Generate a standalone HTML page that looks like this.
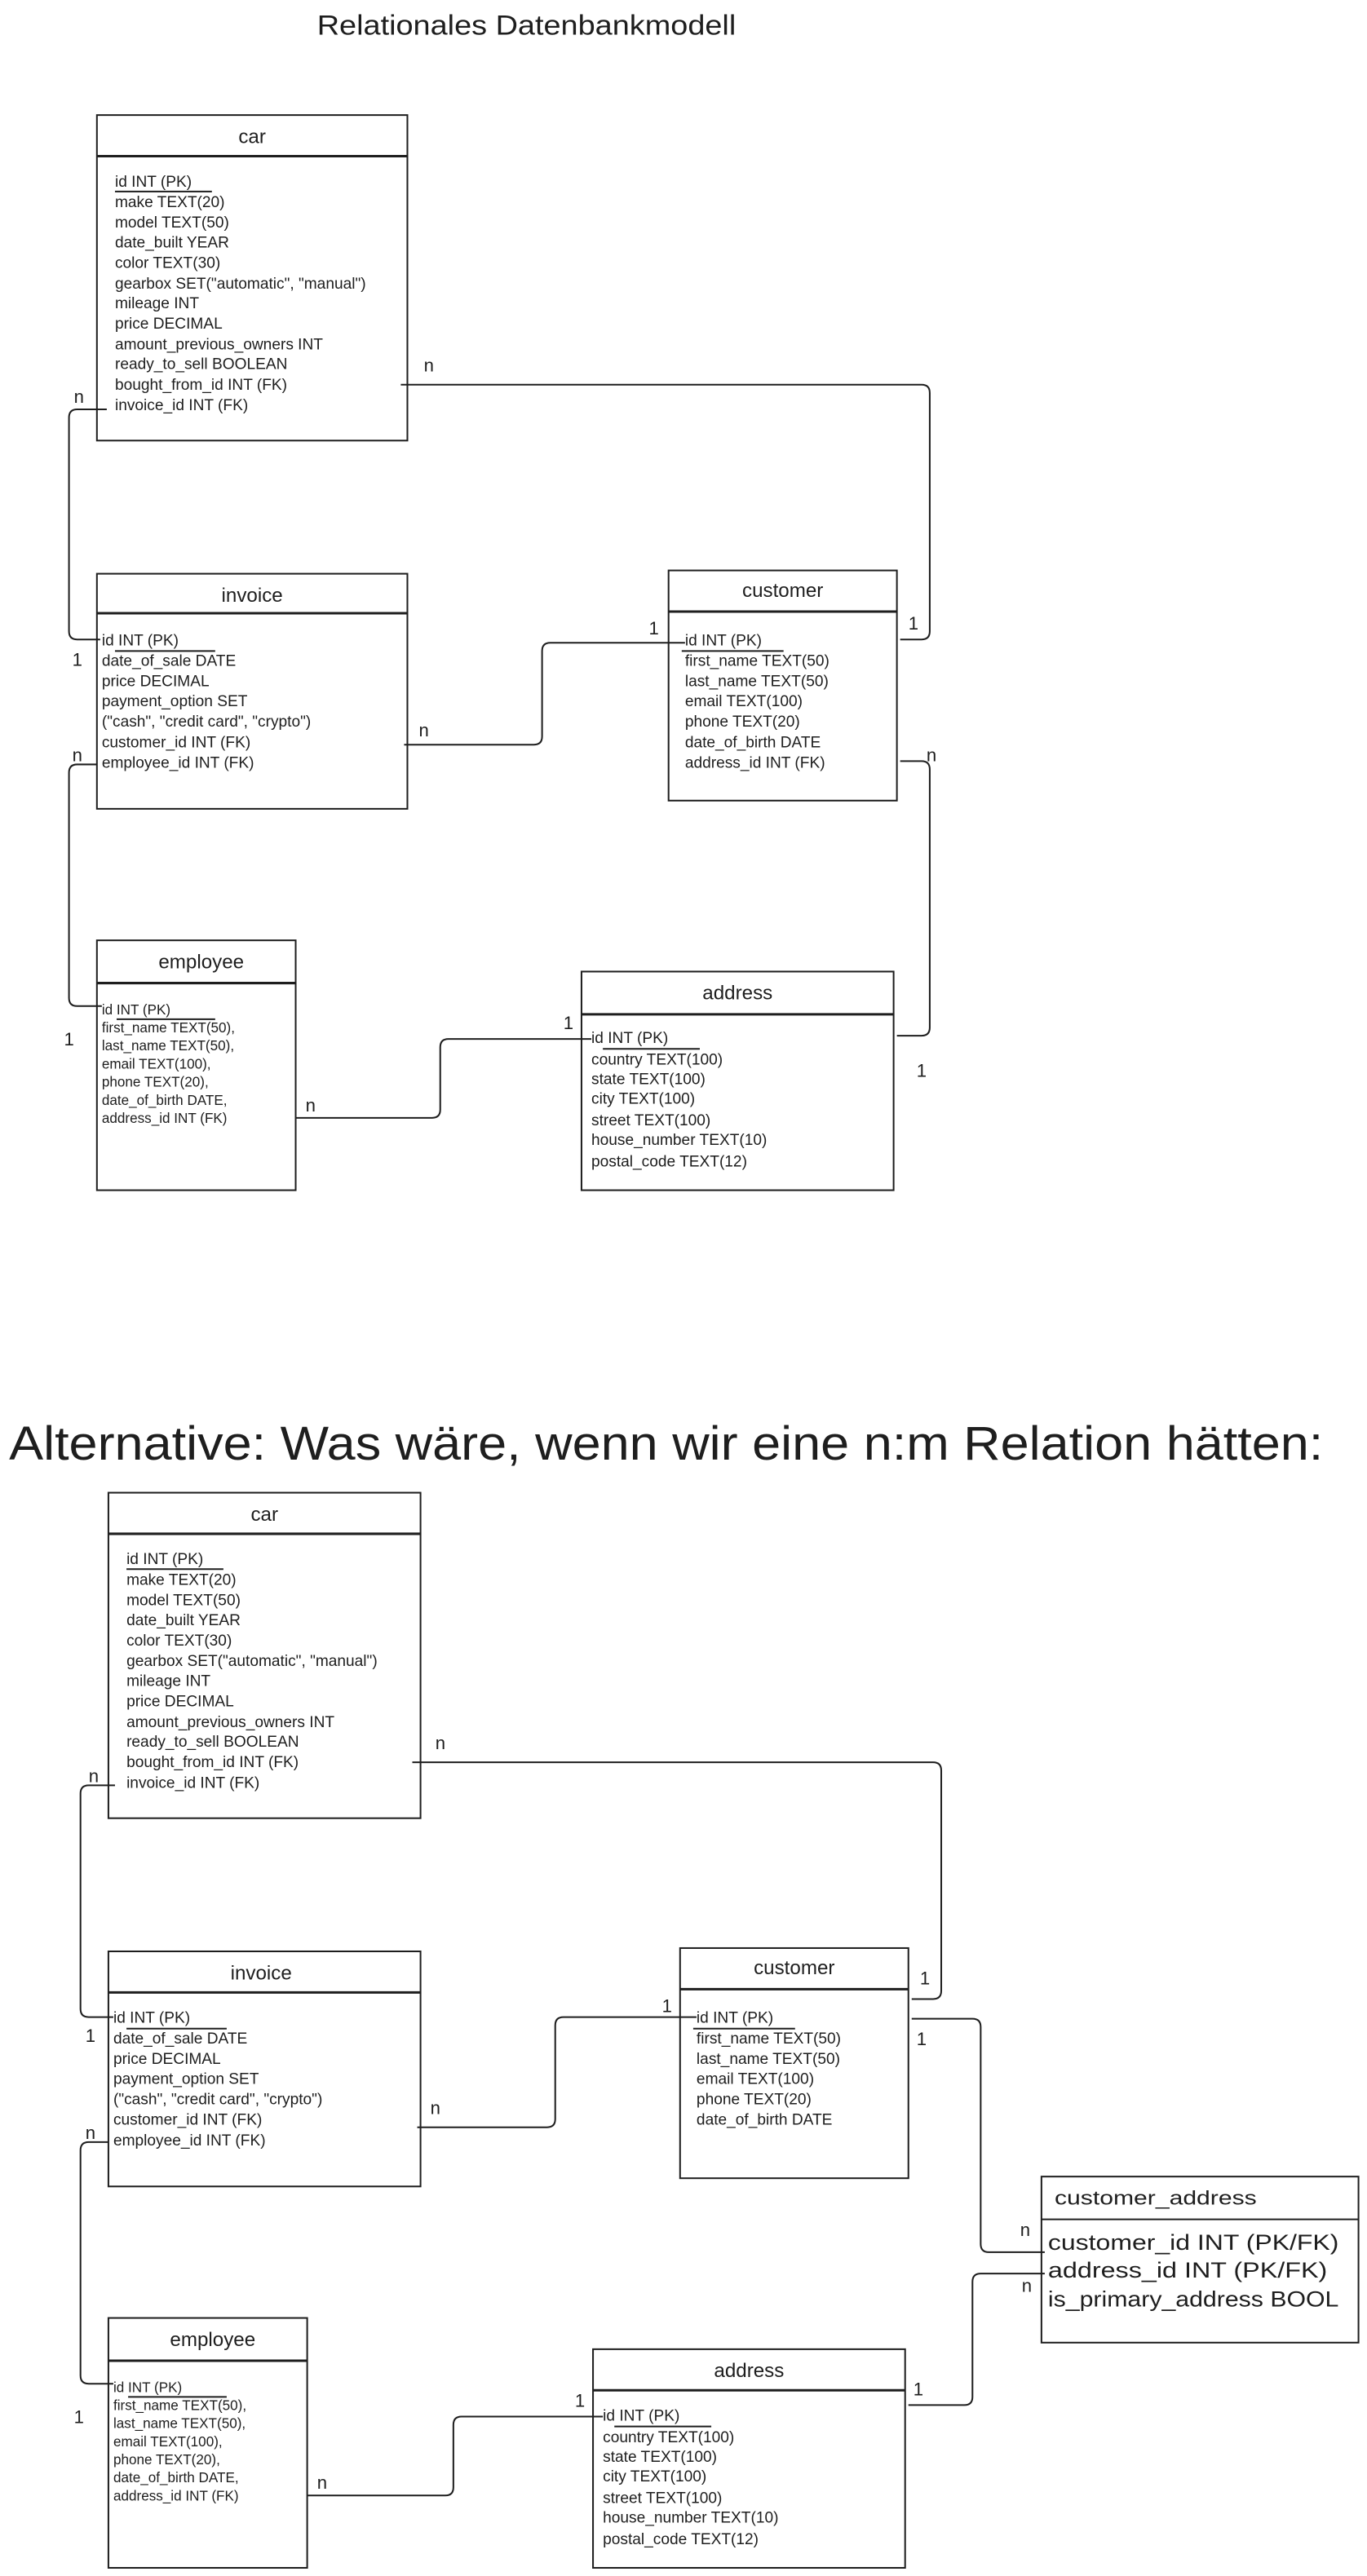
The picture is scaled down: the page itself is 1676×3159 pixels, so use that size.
<!DOCTYPE html>
<html><head><meta charset="utf-8"><style>
html,body{margin:0;padding:0;background:#fff}
svg{display:block}
text{font-family:"Liberation Sans",sans-serif;fill:#1e1e1e}
.r{font-size:19px}
.e{font-size:17px}
.h{font-size:24px;text-anchor:middle}
.l{font-size:22px}
.b{fill:none;stroke:#1e1e1e;stroke-width:2}
.hl{stroke:#1e1e1e;stroke-width:3}
.c{fill:none;stroke:#1e1e1e;stroke-width:2}
.u{stroke:#1e1e1e;stroke-width:2}
</style></head><body>
<svg width="1676" height="3159" viewBox="0 0 1676 3159" xmlns="http://www.w3.org/2000/svg">
<g transform="scale(1.007,1.008)">
<text x="386" y="42" font-size="34" textLength="510" lengthAdjust="spacingAndGlyphs">Relationales Datenbankmodell</text>

<!-- TOP: car -->
<rect class="b" x="118" y="140" width="378" height="396"/>
<line class="hl" x1="118" y1="190" x2="496" y2="190"/>
<text class="h" x="307" y="174">car</text>
<g class="r">
<text x="140" y="227">id INT (PK)</text>
<text x="140" y="252">make TEXT(20)</text>
<text x="140" y="277">model TEXT(50)</text>
<text x="140" y="301">date_built YEAR</text>
<text x="140" y="326">color TEXT(30)</text>
<text x="140" y="351">gearbox SET("automatic", "manual")</text>
<text x="140" y="375">mileage INT</text>
<text x="140" y="400">price DECIMAL</text>
<text x="140" y="425">amount_previous_owners INT</text>
<text x="140" y="449">ready_to_sell BOOLEAN</text>
<text x="140" y="474">bought_from_id INT (FK)</text>
<text x="140" y="499">invoice_id INT (FK)</text>
</g>
<line class="u" x1="140" y1="233" x2="258" y2="233"/>

<!-- TOP: invoice -->
<rect class="b" x="118" y="698" width="378" height="286"/>
<line class="hl" x1="118" y1="746" x2="496" y2="746"/>
<text class="h" x="307" y="732">invoice</text>
<g class="r">
<text x="124" y="785">id INT (PK)</text>
<text x="124" y="810">date_of_sale DATE</text>
<text x="124" y="835">price DECIMAL</text>
<text x="124" y="859">payment_option SET</text>
<text x="124" y="884">("cash", "credit card", "crypto")</text>
<text x="124" y="909">customer_id INT (FK)</text>
<text x="124" y="934">employee_id INT (FK)</text>
</g>
<line class="u" x1="140" y1="792" x2="262" y2="792"/>

<!-- TOP: customer -->
<rect class="b" x="814" y="694" width="278" height="280"/>
<line class="hl" x1="814" y1="744" x2="1092" y2="744"/>
<text class="h" x="953" y="726">customer</text>
<g class="r">
<text x="834" y="785">id INT (PK)</text>
<text x="834" y="810">first_name TEXT(50)</text>
<text x="834" y="835">last_name TEXT(50)</text>
<text x="834" y="859">email TEXT(100)</text>
<text x="834" y="884">phone TEXT(20)</text>
<text x="834" y="909">date_of_birth DATE</text>
<text x="834" y="934">address_id INT (FK)</text>
</g>
<line class="u" x1="830" y1="792" x2="954" y2="792"/>

<!-- TOP: employee -->
<rect class="b" x="118" y="1144" width="242" height="304"/>
<line class="hl" x1="118" y1="1196" x2="360" y2="1196"/>
<text class="h" x="245" y="1178">employee</text>
<g class="e">
<text x="124" y="1234">id INT (PK)</text>
<text x="124" y="1256">first_name TEXT(50),</text>
<text x="124" y="1278">last_name TEXT(50),</text>
<text x="124" y="1300">email TEXT(100),</text>
<text x="124" y="1322">phone TEXT(20),</text>
<text x="124" y="1344">date_of_birth DATE,</text>
<text x="124" y="1366">address_id INT (FK)</text>
</g>
<line class="u" x1="142" y1="1240" x2="262" y2="1240"/>

<!-- TOP: address -->
<rect class="b" x="708" y="1182" width="380" height="266"/>
<line class="hl" x1="708" y1="1234" x2="1088" y2="1234"/>
<text class="h" x="898" y="1216">address</text>
<g class="r">
<text x="720" y="1269">id INT (PK)</text>
<text x="720" y="1295">country TEXT(100)</text>
<text x="720" y="1319">state TEXT(100)</text>
<text x="720" y="1343">city TEXT(100)</text>
<text x="720" y="1369">street TEXT(100)</text>
<text x="720" y="1393">house_number TEXT(10)</text>
<text x="720" y="1419">postal_code TEXT(12)</text>
</g>
<line class="u" x1="734" y1="1276" x2="852" y2="1276"/>

<!-- TOP connectors -->
<path class="c" d="M488 468 H1122 Q1132 468 1132 478 V768 Q1132 778 1122 778 H1096"/>
<path class="c" d="M130 498 H94 Q84 498 84 508 V768 Q84 778 94 778 H122"/>
<path class="c" d="M492 906 H650 Q660 906 660 896 V792 Q660 782 670 782 H834"/>
<path class="c" d="M118 930 H94 Q84 930 84 940 V1214 Q84 1224 94 1224 H124"/>
<path class="c" d="M360 1360 H526 Q536 1360 536 1350 V1274 Q536 1264 546 1264 H720"/>
<path class="c" d="M1096 926 H1122 Q1132 926 1132 936 V1250 Q1132 1260 1122 1260 H1092"/>
<g class="l">
<text x="516" y="452">n</text><text x="1106" y="766">1</text>
<text x="90" y="490">n</text><text x="88" y="810">1</text>
<text x="510" y="896">n</text><text x="790" y="772">1</text>
<text x="88" y="926">n</text><text x="78" y="1272">1</text>
<text x="372" y="1352">n</text><text x="686" y="1252">1</text>
<text x="1128" y="926">n</text><text x="1116" y="1310">1</text>
</g>

<!-- ALT title -->
<text x="11" y="1776" font-size="58" textLength="1600" lengthAdjust="spacingAndGlyphs">Alternative: Was wäre, wenn wir eine n:m Relation hätten:</text>

<!-- BOTTOM: car -->
<rect class="b" x="132" y="1816" width="380" height="396"/>
<line class="hl" x1="132" y1="1866" x2="512" y2="1866"/>
<text class="h" x="322" y="1850">car</text>
<g class="r">
<text x="154" y="1903">id INT (PK)</text>
<text x="154" y="1928">make TEXT(20)</text>
<text x="154" y="1953">model TEXT(50)</text>
<text x="154" y="1977">date_built YEAR</text>
<text x="154" y="2002">color TEXT(30)</text>
<text x="154" y="2027">gearbox SET("automatic", "manual")</text>
<text x="154" y="2051">mileage INT</text>
<text x="154" y="2076">price DECIMAL</text>
<text x="154" y="2101">amount_previous_owners INT</text>
<text x="154" y="2125">ready_to_sell BOOLEAN</text>
<text x="154" y="2150">bought_from_id INT (FK)</text>
<text x="154" y="2175">invoice_id INT (FK)</text>
</g>
<line class="u" x1="154" y1="1909" x2="272" y2="1909"/>

<!-- BOTTOM: invoice -->
<rect class="b" x="132" y="2374" width="380" height="286"/>
<line class="hl" x1="132" y1="2424" x2="512" y2="2424"/>
<text class="h" x="318" y="2408">invoice</text>
<g class="r">
<text x="138" y="2461">id INT (PK)</text>
<text x="138" y="2486">date_of_sale DATE</text>
<text x="138" y="2511">price DECIMAL</text>
<text x="138" y="2535">payment_option SET</text>
<text x="138" y="2560">("cash", "credit card", "crypto")</text>
<text x="138" y="2585">customer_id INT (FK)</text>
<text x="138" y="2610">employee_id INT (FK)</text>
</g>
<line class="u" x1="154" y1="2468" x2="276" y2="2468"/>

<!-- BOTTOM: customer -->
<rect class="b" x="828" y="2370" width="278" height="280"/>
<line class="hl" x1="828" y1="2420" x2="1106" y2="2420"/>
<text class="h" x="967" y="2402">customer</text>
<g class="r">
<text x="848" y="2461">id INT (PK)</text>
<text x="848" y="2486">first_name TEXT(50)</text>
<text x="848" y="2511">last_name TEXT(50)</text>
<text x="848" y="2535">email TEXT(100)</text>
<text x="848" y="2560">phone TEXT(20)</text>
<text x="848" y="2585">date_of_birth DATE</text>
</g>
<line class="u" x1="844" y1="2468" x2="968" y2="2468"/>

<!-- BOTTOM: employee -->
<rect class="b" x="132" y="2820" width="242" height="304"/>
<line class="hl" x1="132" y1="2872" x2="374" y2="2872"/>
<text class="h" x="259" y="2854">employee</text>
<g class="e">
<text x="138" y="2910">id INT (PK)</text>
<text x="138" y="2932">first_name TEXT(50),</text>
<text x="138" y="2954">last_name TEXT(50),</text>
<text x="138" y="2976">email TEXT(100),</text>
<text x="138" y="2998">phone TEXT(20),</text>
<text x="138" y="3020">date_of_birth DATE,</text>
<text x="138" y="3042">address_id INT (FK)</text>
</g>
<line class="u" x1="156" y1="2916" x2="276" y2="2916"/>

<!-- BOTTOM: address -->
<rect class="b" x="722" y="2858" width="380" height="266"/>
<line class="hl" x1="722" y1="2908" x2="1102" y2="2908"/>
<text class="h" x="912" y="2892">address</text>
<g class="r">
<text x="734" y="2945">id INT (PK)</text>
<text x="734" y="2971">country TEXT(100)</text>
<text x="734" y="2995">state TEXT(100)</text>
<text x="734" y="3019">city TEXT(100)</text>
<text x="734" y="3045">street TEXT(100)</text>
<text x="734" y="3069">house_number TEXT(10)</text>
<text x="734" y="3095">postal_code TEXT(12)</text>
</g>
<line class="u" x1="748" y1="2952" x2="866" y2="2952"/>

<!-- BOTTOM: customer_address -->
<rect class="b" x="1268" y="2648" width="386" height="202"/>
<line class="b" x1="1268" y1="2700" x2="1654" y2="2700"/>
<text x="1284" y="2682" font-size="24" textLength="246" lengthAdjust="spacingAndGlyphs">customer_address</text>
<text x="1276" y="2737" font-size="27" textLength="354" lengthAdjust="spacingAndGlyphs">customer_id INT (PK/FK)</text>
<text x="1276" y="2771" font-size="27" textLength="340" lengthAdjust="spacingAndGlyphs">address_id INT (PK/FK)</text>
<text x="1276" y="2806" font-size="27" textLength="354" lengthAdjust="spacingAndGlyphs">is_primary_address BOOL</text>

<!-- BOTTOM connectors -->
<path class="c" d="M502 2144 H1136 Q1146 2144 1146 2154 V2422 Q1146 2432 1136 2432 H1110"/>
<path class="c" d="M140 2172 H108 Q98 2172 98 2182 V2444 Q98 2454 108 2454 H138"/>
<path class="c" d="M508 2588 H666 Q676 2588 676 2578 V2464 Q676 2454 686 2454 H848"/>
<path class="c" d="M132 2606 H108 Q98 2606 98 2616 V2890 Q98 2900 108 2900 H138"/>
<path class="c" d="M374 3036 H542 Q552 3036 552 3026 V2950 Q552 2940 562 2940 H734"/>
<path class="c" d="M1110 2456 H1184 Q1194 2456 1194 2466 V2730 Q1194 2740 1204 2740 H1272"/>
<path class="c" d="M1106 2926 H1174 Q1184 2926 1184 2916 V2776 Q1184 2766 1194 2766 H1272"/>
<g class="l">
<text x="530" y="2128">n</text><text x="1120" y="2414">1</text>
<text x="108" y="2168">n</text><text x="104" y="2484">1</text>
<text x="524" y="2572">n</text><text x="806" y="2448">1</text>
<text x="104" y="2602">n</text><text x="90" y="2948">1</text>
<text x="386" y="3028">n</text><text x="700" y="2928">1</text>
<text x="1116" y="2488">1</text><text x="1242" y="2720">n</text>
<text x="1112" y="2914">1</text><text x="1244" y="2788">n</text>
</g>
</g>
</svg>
</body></html>
